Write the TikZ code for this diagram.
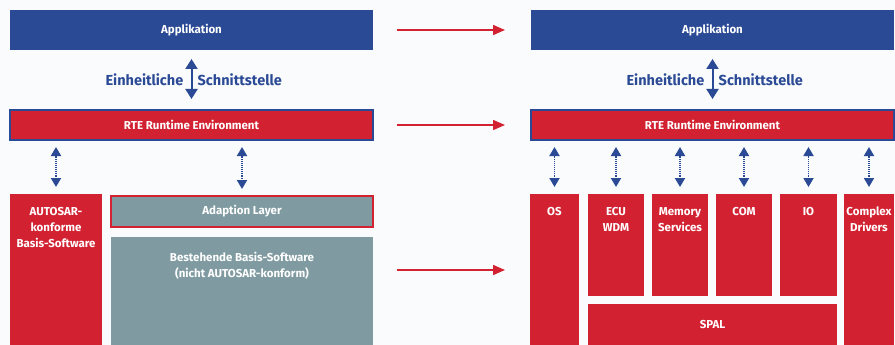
\documentclass[tikz,border=0pt]{standalone}
\usepackage{fontspec}
\setmainfont{Fira Sans}
\usetikzlibrary{arrows.meta,positioning,calc}
\definecolor{autoblue}{HTML}{2B4A95}
\definecolor{autored}{HTML}{D22231}
\definecolor{autogray}{HTML}{7F9BA1}
\definecolor{paper}{HTML}{F9FBFD}
\tikzset{
  box/.style={rectangle, inner sep=0pt, outer sep=0pt, text=white,
    font=\bfseries\fontsize{11.5}{16}\selectfont},
  bluebox/.style={box, fill=autoblue},
  redbox/.style={box, fill=autored},
  rtebox/.style={box, fill=autored, draw=autoblue, line width=1.6pt},
  graybox/.style={box, fill=autogray},
  adaptbox/.style={box, fill=autogray, draw=autored, line width=1.4pt},
  lbl/.style={text=white, font=\bfseries\fontsize{11.5}{16}\selectfont,
    align=center, inner sep=0pt},
  bigtxt/.style={text=autoblue, font=\bfseries\fontsize{14.5}{17}\selectfont,
    inner sep=0pt},
  iface/.style={autoblue, line width=2pt,
    {Triangle[width=12pt,length=10pt]}-{Triangle[width=12pt,length=10pt]}},
  link/.style={autoblue, line width=1.8pt, dash pattern=on 1pt off 0.9pt,
    {Triangle[width=10pt,length=9pt]}-{Triangle[width=10pt,length=9pt]},
    shorten <=7pt, shorten >=7pt},
  migrate/.style={autored, line width=1.5pt, -{Triangle[width=10pt,length=12pt]}},
}
\begin{document}
\begin{tikzpicture}[x=1pt,y=1pt]
\fill[paper] (0,0) rectangle (895,-345);
\useasboundingbox (0,0) rectangle (895,-345);

% vorher
\node[bluebox, minimum width=363pt, minimum height=40pt] (appL) at (191.5,-30) {Applikation};
\node[rtebox, minimum width=363pt, minimum height=30pt] (rteL) at (191.5,-125) {RTE Runtime Environment};
\node[redbox, minimum width=92pt, minimum height=152pt] (auto) at (56,-270) {};
\node[adaptbox, minimum width=262pt, minimum height=31pt] (adapt) at (242,-211.5) {Adaption Layer};
\node[graybox, minimum width=262pt, minimum height=109pt] (best) at (242,-291.5) {};
\node[lbl, below=13pt of auto.north] {AUTOSAR-\\konforme\\Basis-Software};
\node[lbl, below=15pt of best.north] {Bestehende Basis-Software\\(nicht AUTOSAR-konform)};

\coordinate (midL) at ($(appL.south)!0.5!(rteL.north)$);
\draw[iface, shorten <=9pt, shorten >=11pt] (appL.south) -- (rteL.north);
\node[bigtxt, left=8pt of midL] {Einheitliche};
\node[bigtxt, right=6pt of midL] {Schnittstelle};
\draw[link] (rteL.south -| auto.north) -- (auto.north);
\draw[link] (rteL.south -| adapt.north) -- (adapt.north);

% nachher
\node[bluebox, minimum width=363pt, minimum height=40pt] (appR) at (712.5,-30) {Applikation};
\node[rtebox, minimum width=363pt, minimum height=30pt] (rteR) at (712.5,-125) {RTE Runtime Environment};
\node[redbox, minimum width=49pt, minimum height=152pt] (os) at (554.5,-270) {};
\node[redbox, minimum width=56pt, minimum height=102pt] (ecu) at (616,-245) {};
\node[redbox, minimum width=56pt, minimum height=102pt] (mem) at (680,-245) {};
\node[redbox, minimum width=56pt, minimum height=102pt] (com) at (744,-245) {};
\node[redbox, minimum width=57pt, minimum height=102pt] (io) at (808.5,-245) {};
\node[redbox, minimum width=50pt, minimum height=152pt] (cplx) at (869,-270) {};
\node[redbox, minimum width=249pt, minimum height=42pt] (spal) at (712.5,-325) {SPAL};
\node[lbl, below=13pt of os.north] {OS};
\node[lbl, below=13pt of ecu.north] {ECU\\WDM};
\node[lbl, below=13pt of mem.north] {Memory\\Services};
\node[lbl, below=13pt of com.north] {COM};
\node[lbl, below=13pt of io.north] {IO};
\node[lbl, below=13pt of cplx.north] {Complex\\Drivers};

\coordinate (midR) at ($(appR.south)!0.5!(rteR.north)$);
\draw[iface, shorten <=9pt, shorten >=11pt] (appR.south) -- (rteR.north);
\node[bigtxt, left=8pt of midR] {Einheitliche};
\node[bigtxt, right=6pt of midR] {Schnittstelle};
\foreach \b in {os,ecu,mem,com,io,cplx}
  \draw[link] (rteR.south -| \b.north) -- (\b.north);

% Migration
\draw[migrate, shorten <=24pt, shorten >=26pt] (appL.east) -- (appR.west);
\draw[migrate, shorten <=24pt, shorten >=26pt] (rteL.east) -- (rteR.west);
\draw[migrate, shorten <=24pt, shorten >=25pt] (best.east |- os.west) -- (os.west);
\end{tikzpicture}
\end{document}
